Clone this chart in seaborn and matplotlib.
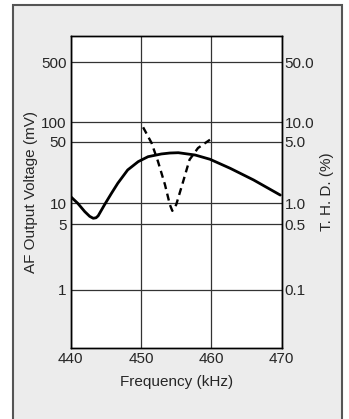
import numpy as np
import matplotlib
matplotlib.use("Agg")
import matplotlib.pyplot as plt
import seaborn as sns
from matplotlib.patches import Rectangle

# AF output voltage (mV), solid curve
af_freq = [440.1, 441.0, 442.0, 442.7, 443.2, 443.6, 443.9, 444.8, 445.8, 446.7, 448.1, 449.6, 451.0, 452.9,
           454.1, 455.3, 457.7, 459.8, 462.7, 466.0, 469.8]
af_mv = [11.7, 10.0, 7.6, 6.5, 6.1, 6.2, 6.6, 9.5, 13.0, 16.9, 23.9, 29.7, 33.8, 36.3,
         37.2, 37.5, 35.3, 31.6, 24.9, 18.4, 12.4]

# total harmonic distortion (%), dashed curve
thd_freq = [450.3, 451.5, 452.4, 453.4, 454.1, 454.45, 455.0, 456.0, 456.9, 458.1, 459.8]
thd_pct = [8.3, 4.83, 3.0, 1.63, 0.955, 0.78, 0.955, 1.78, 3.13, 4.24, 5.36]

x_ticks = [440, 450, 460, 470]
left_ticks = [1, 5, 10, 50, 100, 500]
left_labels = ["1", "5", "10", "50", "100", "500"]
right_ticks = [0.1, 0.5, 1.0, 5.0, 10.0, 50.0]
right_labels = ["0.1", "0.5", "1.0", "5.0", "10.0", "50.0"]

# the printed chart's log axis is not evenly spaced; map it piecewise
knot_vals = [0.002, 0.2, 1, 5, 10, 50, 100, 500, 1000, 100000]
knot_pos = [-170, 0, 58.6, 124.0, 145.0, 206.6, 226.3, 286.0, 312.6, 482.6]
knot_log = np.log10(knot_vals)


def make_scale(shift):
    def fwd(v):
        v = np.asarray(v, dtype=float)
        return np.interp(np.log10(np.clip(v, 1e-9, None)) + shift, knot_log, knot_pos)

    def inv(p):
        return 10 ** (np.interp(np.asarray(p, dtype=float), knot_pos, knot_log) - shift)
    return fwd, inv


sns.set_style("white")
plt.rcParams["font.family"] = ["Liberation Sans", "DejaVu Sans"]

fig = plt.figure(figsize=(3.49, 4.19), dpi=100)
fig.patch.set_facecolor("white")
fig.patches.append(Rectangle((13 / 349, -0.05), 329 / 349, 1.05 - 5 / 419,
                             transform=fig.transFigure, facecolor="#ececec",
                             edgecolor="#555555", linewidth=1.5, zorder=-10))

ax = fig.add_axes([70.7 / 349, 1 - 348.3 / 419, 211 / 349, 312.6 / 419])
ax.set_facecolor("white")
ax.set_yscale("function", functions=make_scale(0))
ax.set_xlim(440, 470)
ax.set_ylim(0.2, 1000)

sns.lineplot(x=af_freq, y=af_mv, ax=ax, color="black", linewidth=2.0)

ax.set_xticks(x_ticks)
ax.set_yticks(left_ticks)
ax.set_yticklabels(left_labels)
ax.yaxis.set_minor_locator(matplotlib.ticker.NullLocator())
ax.grid(True, color="#333333", linewidth=0.9)
ax.tick_params(length=0, labelsize=11, pad=3)
for s in ax.spines.values():
    s.set_color("black")
    s.set_linewidth(1.0)
ax.set_xlabel("Frequency (kHz)", fontsize=11, labelpad=6)
ax.set_ylabel("AF Output Voltage (mV)", fontsize=11, labelpad=2)

ax2 = ax.twinx()
ax2.set_yscale("function", functions=make_scale(1))
ax2.set_ylim(0.02, 100)
sns.lineplot(x=thd_freq, y=thd_pct, ax=ax2, color="black", linewidth=1.7,
             linestyle=(0, (3, 2)))
ax2.set_yticks(right_ticks)
ax2.set_yticklabels(right_labels)
ax2.yaxis.set_minor_locator(matplotlib.ticker.NullLocator())
ax2.tick_params(length=0, labelsize=11, pad=2)
ax2.set_ylabel("T. H. D. (%)", fontsize=11, labelpad=4)
ax2.grid(False)
for s in ax2.spines.values():
    s.set_color("black")
    s.set_linewidth(1.0)

fig.savefig("out.png", dpi=100)
